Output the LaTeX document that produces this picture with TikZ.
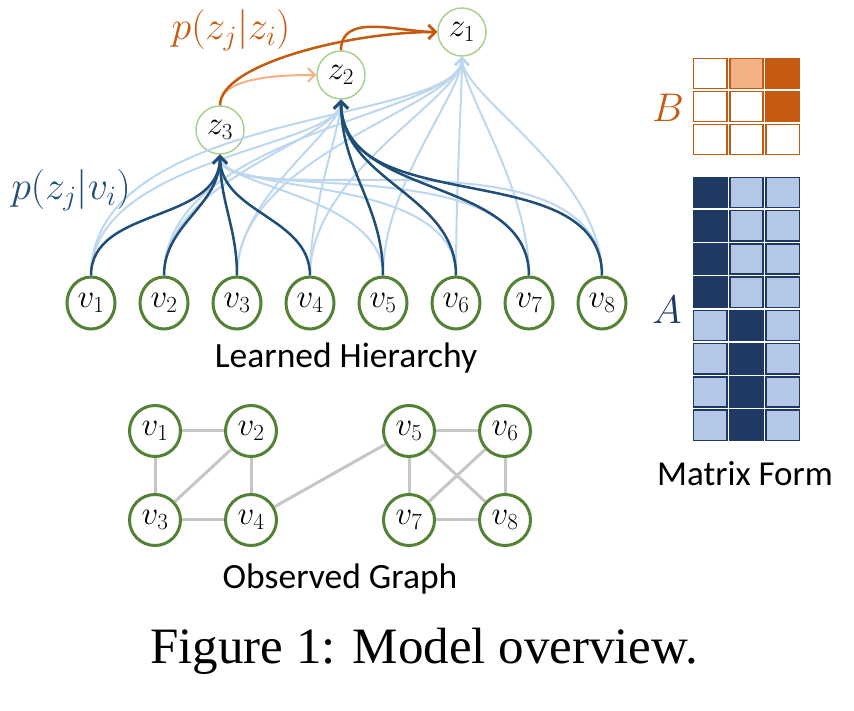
\RequirePackage{fix-cm}
\documentclass[tikz,border=0pt]{standalone}
\usepackage{amsmath}
\usepackage{fontspec}
\setmainfont{Liberation Serif}
\newfontfamily\labelfont{Carlito}
\usetikzlibrary{arrows.meta,shapes.geometric}

\definecolor{vgreen}{HTML}{548235}
\definecolor{zgreen}{HTML}{A9D18E}
\definecolor{navy}{HTML}{1F4E79}
\definecolor{skyblue}{HTML}{BDD7EE}
\definecolor{rust}{HTML}{C55A11}
\definecolor{peach}{HTML}{F4B183}
\definecolor{graphgray}{HTML}{C6C6C6}
\definecolor{Ad}{HTML}{203864}
\definecolor{Al}{HTML}{B4C7E7}
\colorlet{Bw}{white}
\colorlet{Bl}{peach}
\colorlet{Bd}{rust}

\tikzset{
  mathlbl/.style={font=\fontsize{33}{38}\selectfont},
  vtop/.style={ellipse,draw=vgreen,line width=3pt,minimum width=48pt,minimum height=52pt,inner sep=0pt,mathlbl},
  vobs/.style={circle,draw=vgreen,line width=3pt,minimum size=51pt,inner sep=0pt,mathlbl},
  zvar/.style={circle,draw=zgreen,line width=1.5pt,minimum size=48pt,inner sep=0pt,mathlbl},
  chev/.style={-{Straight Barb[length=7pt,width=14pt]}},
  soft/.style={chev,draw=skyblue,line width=2pt},
  hard/.style={chev,draw=navy,line width=2.5pt},
  link/.style={draw=graphgray,line width=3pt},
  subtitle/.style={anchor=base,font=\labelfont\fontsize{35.5}{40}\selectfont},
  bigmath/.style={inner sep=0pt,font=\fontsize{40}{46}\selectfont},
  bcell/.style={draw=rust,line width=1.5pt},
  acell/.style={draw=Ad,line width=1.5pt}
}

\begin{document}
\begin{tikzpicture}[x=1pt,y=1pt]
  \useasboundingbox (0,0) rectangle (854,710);
  % Nodes
  \foreach \i in {1,...,8}
    \node[vtop] (t\i) at ({91+73*(\i-1)},407) {$v_\i$};
  \node[zvar] (z1) at (462,678) {$z_1$};
  \node[zvar] (z2) at (341,635) {$z_2$};
  \node[zvar] (z3) at (220,580) {$z_3$};
  % Edges
  \foreach \i in {1,...,8}
    \draw[soft] (t\i.north) to[out=90,in=-90,in looseness=0.4] (z1.south);
  \foreach \i in {5,...,8}
    \draw[soft] (t\i.north) to[out=90,in=-90,in looseness=0.4] (z3.south);
  \foreach \i in {1,...,4}
    \draw[soft] (t\i.north) to[out=90,in=-90,in looseness=0.4] (z2.south);
  \foreach \i in {1,...,4}
    \draw[hard] (t\i.north) to[out=90,in=-90] (z3.south);
  \foreach \i in {5,...,8}
    \draw[hard] (t\i.north) to[out=90,in=-90] (z2.south);
  \draw[chev,draw=peach,line width=2pt] (z3.north) to[out=90,in=180,out looseness=0.7] (z2.west);
  \draw[chev,draw=rust,line width=2.5pt] (z3.north) to[out=90,in=180,out looseness=0.45] (z1.west);
  \draw[chev,draw=rust,line width=2.5pt] (z2.north) to[out=90,in=180] (z1.west);
  % Observed graph
  \node[vobs] (o1) at (155,279) {$v_1$};
  \node[vobs] (o2) at (251,279) {$v_2$};
  \node[vobs] (o3) at (155,190) {$v_3$};
  \node[vobs] (o4) at (251,190) {$v_4$};
  \node[vobs] (o5) at (409,279) {$v_5$};
  \node[vobs] (o6) at (505,279) {$v_6$};
  \node[vobs] (o7) at (409,190) {$v_7$};
  \node[vobs] (o8) at (505,190) {$v_8$};
  \foreach \a/\b in {1/2,1/3,2/3,2/4,3/4,4/5,5/6,5/7,5/8,6/7,6/8,7/8}
    \draw[link] (o\a) -- (o\b);
  % Matrices
  \foreach \c [count=\k from 0] in {w,l,d, w,w,d, w,w,w}{
    \pgfmathtruncatemacro\brow{\k/3}
    \pgfmathtruncatemacro\bcol{mod(\k,3)}
    \draw[bcell,fill=B\c] ({693.5+36.3*\bcol},{651.5-33*\brow}) rectangle ++(33.3,-30);
  }
  \foreach \c [count=\k from 0] in {d,l,l, d,l,l, d,l,l, d,l,l, l,d,l, l,d,l, l,d,l, l,d,l}{
    \pgfmathtruncatemacro\arow{\k/3}
    \pgfmathtruncatemacro\acol{mod(\k,3)}
    \draw[acell,fill=A\c] ({693.5+36.3*\acol},{532.5-33.25*\arow}) rectangle ++(33.3,-30.25);
  }
  % Labels
  \node[text=rust,bigmath] (pzz) at (231,680) {$p(z_j|z_i)$};
  \node[text=navy,bigmath] (pzv) at (71,520) {$p(z_j|v_i)$};
  \node[text=rust,bigmath] (lblB) at (668,602) {$B$};
  \node[text=Ad,bigmath] (lblA) at (667,400) {$A$};
  \node[subtitle] (hier) at (346,342) {Learned Hierarchy};
  \node[subtitle] (obs) at (340,122) {Observed Graph};
  \node[subtitle,font=\labelfont\fontsize{35}{40}\selectfont] (mat) at (745,224) {Matrix Form};
  \node[anchor=base,font=\fontsize{51}{58}\selectfont] (cap) at (424,47) {Figure 1: Model overview.};
\end{tikzpicture}
\end{document}
